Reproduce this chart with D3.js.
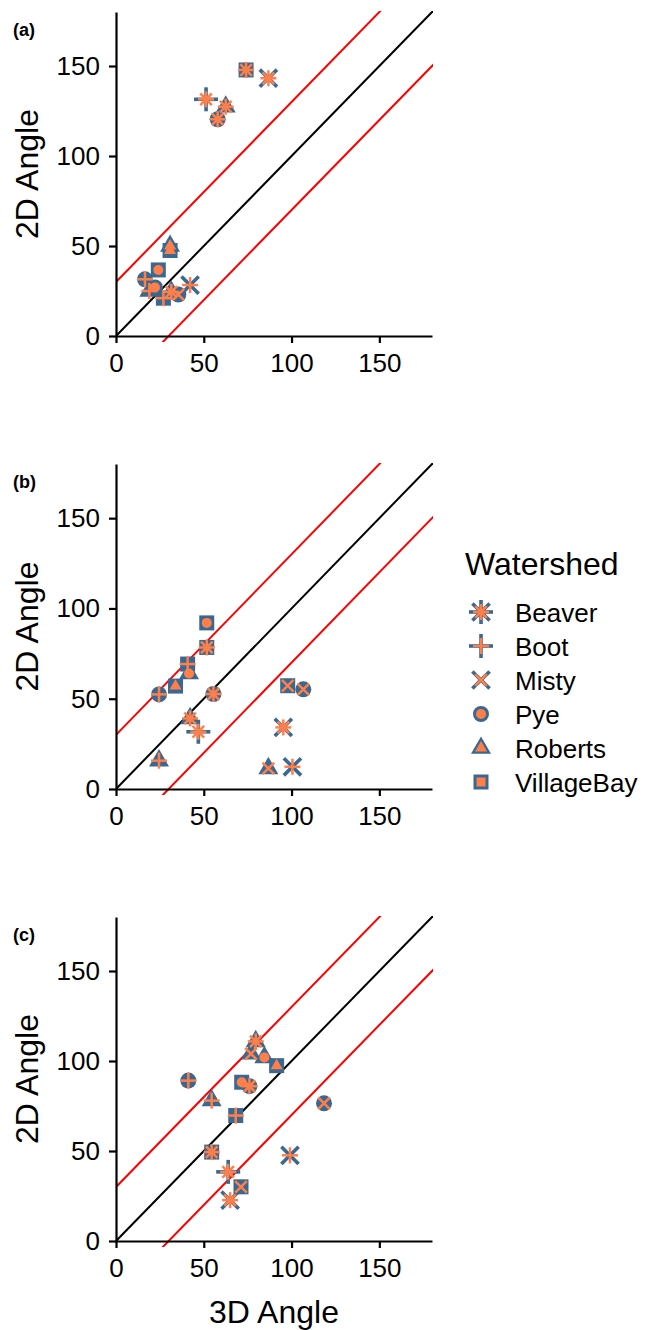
<!DOCTYPE html>
<html>
<head>
<meta charset="utf-8">
<script src="https://cdn.jsdelivr.net/npm/d3@7"></script>
<style>
  html, body { margin: 0; padding: 0; background: #fff; }
  svg { display: block; font-family: "Liberation Sans", Arial, Helvetica, sans-serif; }
</style>
</head>
<body>
<svg id="chart" width="651" height="1330"></svg>
<script>
// ---------------- DATA ----------------
const watersheds = ["Beaver", "Boot", "Misty", "Pye", "Roberts", "VillageBay"];
const tickValues = [0, 50, 100, 150];
const panelLabels = ["(a)", "(b)", "(c)"];
const refOffsets = [-30, 0, 30];

// Panel (a)
const aX     = [74.1, 86.8, 51.3, 62.5, 57.9, 30.8, 30.8, 24.1, 16.5, 22.2, 19.0, 27.0, 31.5, 35.5, 42.2];
const aY     = [147.8, 143.2, 131.5, 127.4, 120.4, 50.0, 47.5, 36.7, 31.5, 27.0, 25.0, 21.0, 24.5, 23.0, 28.3];
const aOuter = ["VillageBay","Misty","Boot","Roberts","Pye","Roberts","VillageBay","VillageBay","Pye","Pye","Roberts","VillageBay","Roberts","Pye","Misty"];
const aInner = ["Beaver","Beaver","Beaver","Beaver","Beaver","Roberts","Roberts","Pye","Boot","Pye","Boot","Boot","Beaver","Misty","Boot"];

// Panel (b)
const bX     = [51.7, 51.7, 40.8, 41.6, 33.9, 24.5, 55.5, 97.8, 106.7, 42.2, 46.9, 24.5, 86.8, 100.5, 95.3];
const bY     = [92.0, 78.4, 69.2, 64.0, 57.0, 52.4, 52.6, 57.2, 55.2, 39.1, 31.7, 15.7, 11.4, 12.3, 34.1];
const bOuter = ["VillageBay","VillageBay","VillageBay","Roberts","VillageBay","Pye","Pye","VillageBay","Pye","Roberts","Boot","Roberts","Roberts","Misty","Misty"];
const bInner = ["Pye","Beaver","Boot","Pye","Roberts","Boot","Beaver","Misty","Misty","Beaver","Beaver","Boot","Misty","Boot","Beaver"];

// Panel (c)
const cX     = [79.6, 76.9, 84.5, 91.5, 41.2, 71.6, 76.0, 54.5, 68.2, 118.5, 54.5, 63.9, 71.2, 65.0, 99.1];
const cY     = [110.9, 104.0, 102.0, 97.4, 89.1, 88.2, 86.0, 78.0, 69.7, 76.5, 49.4, 38.4, 30.1, 22.7, 47.6];
const cOuter = ["Roberts","Roberts","Roberts","VillageBay","Pye","VillageBay","Pye","Roberts","VillageBay","Pye","VillageBay","Boot","VillageBay","Misty","Misty"];
const cInner = ["Beaver","Misty","Pye","Roberts","Boot","Pye","Beaver","Boot","Boot","Misty","Beaver","Beaver","Misty","Beaver","Boot"];

// ---------------- STYLE / LAYOUT ----------------
const BLUE = "#3a6891";
const ORANGE = "#ff7f4a";
const svg = d3.select("#chart");

const x = d3.scaleLinear().domain([0, 180]).range([116, 432]);
const panels = [
  { top: 12,  bottom: 336,  xs: aX, ys: aY, outer: aOuter, inner: aInner },
  { top: 464, bottom: 789,  xs: bX, ys: bY, outer: bOuter, inner: bInner },
  { top: 917, bottom: 1241, xs: cX, ys: cY, outer: cOuter, inner: cInner }
];

const shapeOf = { Beaver: "asterisk", Boot: "plus", Misty: "x", Pye: "circle", Roberts: "triangle", VillageBay: "square" };

function drawShape(g, name, cx, cy, layer) {
  const type = shapeOf[name];
  const outer = layer === "outer";
  const col = outer ? BLUE : ORANGE;
  const sw = outer ? 3.6 : 2.5;
  const arm = outer ? 12 : 8;
  const dArm = outer ? 8.6 : 5.8;
  const gg = g.append("g").attr("transform", `translate(${cx},${cy})`);
  const line = (x1, y1, x2, y2) => gg.append("line")
    .attr("x1", x1).attr("y1", y1).attr("x2", x2).attr("y2", y2)
    .attr("stroke", col).attr("stroke-width", sw).attr("stroke-linecap", "butt");
  if (type === "square") {
    const s = outer ? 15 : 9;
    gg.append("rect").attr("x", -s / 2).attr("y", -s / 2).attr("width", s).attr("height", s).attr("fill", col);
  } else if (type === "circle") {
    gg.append("circle").attr("r", outer ? 8 : 5).attr("fill", col);
  } else if (type === "triangle") {
    const s = outer ? 20 : 12;
    const h = s * Math.sqrt(3) / 2;
    gg.append("path")
      .attr("d", `M0,${-h * 2 / 3}L${s / 2},${h / 3}L${-s / 2},${h / 3}Z`)
      .attr("fill", col);
  } else {
    if (type === "plus" || type === "asterisk") {
      line(-arm, 0, arm, 0);
      line(0, -arm, 0, arm);
    }
    if (type === "x" || type === "asterisk") {
      line(-dArm, -dArm, dArm, dArm);
      line(-dArm, dArm, dArm, -dArm);
    }
  }
}

panels.forEach((p, i) => {
  const y = d3.scaleLinear().domain([0, 180]).range([p.bottom, p.top]);
  const g = svg.append("g");

  // clip for reference lines
  const clipId = "clip" + i;
  svg.append("clipPath").attr("id", clipId)
    .append("rect").attr("x", x(0)).attr("y", p.top - 1)
    .attr("width", x(180) - x(0) + 1).attr("height", p.bottom - p.top + 7);

  const refG = g.append("g").attr("clip-path", `url(#${clipId})`);
  refOffsets.forEach(off => {
    refG.append("line")
      .attr("x1", x(-10)).attr("y1", y(-10 + off))
      .attr("x2", x(200)).attr("y2", y(200 + off))
      .attr("stroke", off === 0 ? "#000" : "#ff0000")
      .attr("stroke-width", 2);
  });

  // axes
  const xAxis = d3.axisBottom(x).tickValues(tickValues).tickSize(7).tickSizeOuter(0).tickPadding(11);
  const yAxis = d3.axisLeft(y).tickValues(tickValues).tickSize(7).tickSizeOuter(0).tickPadding(9);
  const gx = g.append("g").attr("transform", `translate(0,${p.bottom})`).call(xAxis);
  const gy = g.append("g").attr("transform", `translate(${x(0)},0)`).call(yAxis);
  [gx, gy].forEach(ax => {
    ax.selectAll("path.domain").attr("stroke", "#000").attr("stroke-width", 2.2);
    ax.selectAll(".tick line").attr("stroke", "#000").attr("stroke-width", 2.2);
    ax.selectAll(".tick text").attr("fill", "#000").style("font-size", "26px")
      .style("font-family", "'Liberation Sans', Arial, sans-serif");
  });

  // points: blue layer first, then orange layer
  const ptsOuter = g.append("g");
  const ptsInner = g.append("g");
  p.xs.forEach((xv, k) => drawShape(ptsOuter, p.outer[k], x(xv), y(p.ys[k]), "outer"));
  p.xs.forEach((xv, k) => drawShape(ptsInner, p.inner[k], x(xv), y(p.ys[k]), "inner"));

  // y-axis title
  g.append("text")
    .attr("transform", `translate(38,${(p.top + p.bottom) / 2}) rotate(-90)`)
    .attr("text-anchor", "middle")
    .style("font-size", "32px")
    .text("2D Angle");

  // panel tag
  g.append("text")
    .attr("x", 13).attr("y", p.top + 24)
    .style("font-size", "18px").style("font-weight", "bold")
    .text(panelLabels[i]);
});

// x-axis title
svg.append("text")
  .attr("x", (x(0) + x(180)) / 2).attr("y", 1323)
  .attr("text-anchor", "middle")
  .style("font-size", "32px")
  .text("3D Angle");

// legend
const leg = svg.append("g");
leg.append("text").attr("x", 465).attr("y", 575).style("font-size", "32px").text("Watershed");
watersheds.forEach((w, i) => {
  const cy = 612 + i * 34;
  drawShape(leg, w, 481, cy, "outer");
  drawShape(leg, w, 481, cy, "inner");
  leg.append("text").attr("x", 515).attr("y", cy + 9.5).style("font-size", "26px").text(w);
});
</script>
</body>
</html>
